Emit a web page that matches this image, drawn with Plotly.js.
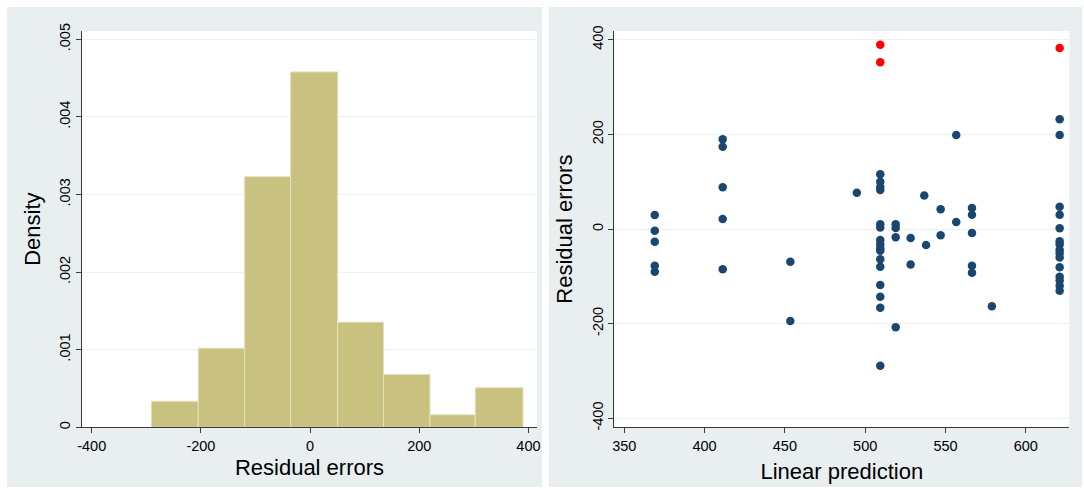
<!DOCTYPE html>
<html>
<head>
<meta charset="utf-8">
<script src="https://cdn.plot.ly/plotly-3.0.1.min.js"></script>
<style>
  html, body { margin: 0; padding: 0; background: #ffffff; }
  #chart { width: 1084px; height: 490px; }
</style>
</head>
<body>
<div id="chart"></div>
<script>
// ---- Histogram of residuals (density) ----
const binEdges = [-290.8, -204.8, -119.9, -35.6, 50.6, 134.7, 219.6, 302.6, 390.0];
const densities = [0.000335, 0.00102, 0.00323, 0.00458, 0.001355, 0.00068, 0.00016, 0.00051];
const densityTickVals = [0, 0.001, 0.002, 0.003, 0.004, 0.005];
const densityTickText = ["0", ".001", ".002", ".003", ".004", ".005"];
const residTickVals = [-400, -200, 0, 200, 400];
const residTickText = ["-400", "-200", "0", "200", "400"];

// ---- Residuals vs linear prediction ----
const predicted = [
  369, 369, 369, 369, 369,
  411.3, 411.3, 411.3, 411.3, 411.3,
  453.4, 453.4,
  494.8,
  509.4, 509.4, 509.4, 509.4, 509.4, 509.4, 509.4, 509.4, 509.4, 509.4, 509.4, 509.4, 509.4, 509.4, 509.4, 509.4,
  519, 519, 519, 519,
  528.3, 528.3,
  536.8, 537.9,
  547, 547,
  556.7, 556.7,
  566.5, 566.5, 566.5, 566.5, 566.5,
  578.9,
  621.1, 621.1, 621.1, 621.1, 621.1, 621.1, 621.1, 621.1, 621.1, 621.1, 621.1, 621.1, 621.1, 621.1, 621.1
];
const residuals = [
  29.6, -3.6, -26.8, -77.6, -90.3,
  189.6, 174, 88.2, 21.1, -85.2,
  -69.1, -194.5,
  76.8,
  115.6, 100, 88.8, 82.5, 10, 3, -23.3, -32.4, -40.9, -45.8, -64.1, -79.7, -118.4, -143, -166.4, -289,
  10, 2, -17.5, -207.8,
  -19, -75,
  71, -34,
  41.6, -13.4,
  199, 14.8,
  44.5, 30, -8.5, -77.6, -92.7,
  -163.5,
  232, 199, 47, 30, 1.4, -26, -32.5, -44.4, -51.4, -60, -81, -100.8, -109, -120, -130.4
];
const outlierPredicted = [509.4, 509.4, 621.1];
const outlierResiduals = [389.6, 352.4, 382.5];
const predTickVals = [350, 400, 450, 500, 550, 600];

const binCenters = binEdges.slice(0, -1).map((e, i) => (e + binEdges[i + 1]) / 2);
const binWidths = binEdges.slice(0, -1).map((e, i) => binEdges[i + 1] - e);

const FONT = "Liberation Sans, Arial, Helvetica, sans-serif";
const AXC = "#3a3a3a";
const GRID = "#EDF1F3";
const PANEL = "#E9EFF1";

const traces = [
  {
    type: "bar",
    x: binCenters,
    y: densities,
    width: binWidths,
    xaxis: "x",
    yaxis: "y",
    marker: { color: "#C9C17F", line: { color: "#E4E0B9", width: 1 } },
    showlegend: false
  },
  {
    type: "scatter",
    mode: "markers",
    x: predicted,
    y: residuals,
    xaxis: "x2",
    yaxis: "y2",
    marker: { color: "#1A476F", size: 8.5 },
    showlegend: false
  },
  {
    type: "scatter",
    mode: "markers",
    x: outlierPredicted,
    y: outlierResiduals,
    xaxis: "x2",
    yaxis: "y2",
    marker: { color: "#FF0000", size: 8.5 },
    showlegend: false
  }
];

const commonAxis = {
  showline: true,
  linecolor: AXC,
  linewidth: 1,
  ticks: "outside",
  ticklen: 5,
  tickwidth: 1,
  tickcolor: AXC,
  zeroline: false,
  mirror: false,
  tickfont: { family: FONT, size: 14.5, color: "#000" },
  automargin: false
};

const yDomain = [0.128, 0.9367];
const W = 1084, H = 490;
function whiteStrip(x0, x1, y0, y1) {
  return { type: "rect", xref: "paper", yref: "paper", x0: x0 / W, x1: x1 / W, y0: 1 - y1 / H, y1: 1 - y0 / H,
           fillcolor: "#ffffff", line: { width: 0 }, layer: "above" };
}

const layout = {
  width: W,
  height: H,
  margin: { l: 0, r: 0, t: 0, b: 0 },
  paper_bgcolor: PANEL,
  plot_bgcolor: "#ffffff",
  bargap: 0,
  showlegend: false,
  font: { family: FONT, color: "#000" },
  shapes: [
    whiteStrip(0, W, 0, 7),
    whiteStrip(0, 7, 0, H),
    whiteStrip(542, 549, 0, H),
    whiteStrip(1082, W, 0, H),
    whiteStrip(0, W, 487, H)
  ],
  xaxis: Object.assign({}, commonAxis, {
    domain: [82 / W, 537 / W],
    anchor: "y",
    range: [-417.8, 415.7],
    tickvals: residTickVals,
    ticktext: residTickText,
    showgrid: false,
    title: { text: "Residual errors", font: { family: FONT, size: 22, color: "#000" }, standoff: 6 }
  }),
  yaxis: Object.assign({}, commonAxis, {
    domain: yDomain,
    anchor: "x",
    range: [0, 0.005107],
    tickvals: densityTickVals,
    ticktext: densityTickText,
    tickangle: -90,
    showgrid: true,
    gridcolor: GRID,
    gridwidth: 1,
    title: { text: "Density", font: { family: FONT, size: 22, color: "#000" }, standoff: 10 }
  }),
  xaxis2: Object.assign({}, commonAxis, {
    domain: [614.3 / W, 1069.3 / W],
    anchor: "y2",
    range: [343.8, 627.1],
    tickvals: predTickVals,
    showgrid: false,
    title: { text: "Linear prediction", font: { family: FONT, size: 22, color: "#000" }, standoff: 10 }
  }),
  yaxis2: Object.assign({}, commonAxis, {
    domain: yDomain,
    anchor: "x2",
    range: [-419.2, 418.6],
    tickvals: residTickVals,
    ticktext: residTickText,
    tickangle: -90,
    showgrid: true,
    gridcolor: GRID,
    gridwidth: 1,
    title: { text: "Residual errors", font: { family: FONT, size: 22, color: "#000" }, standoff: 10 }
  })
};

Plotly.newPlot("chart", traces, layout, { staticPlot: true, displayModeBar: false });
</script>
</body>
</html>
